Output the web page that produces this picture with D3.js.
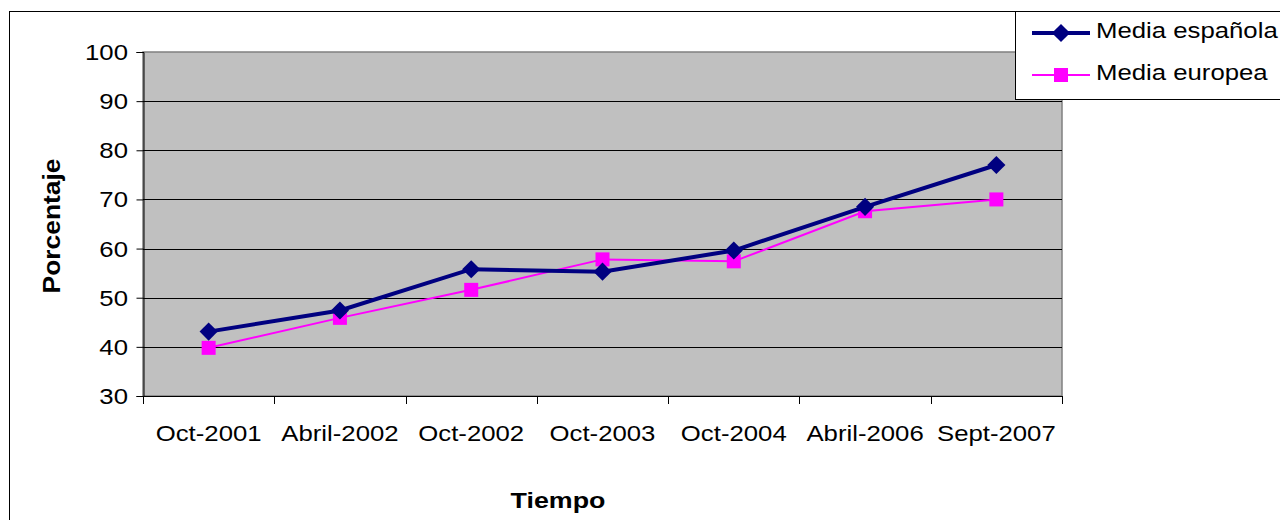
<!DOCTYPE html>
<html>
<head>
<meta charset="UTF-8">
<style>
body { margin: 0; background: #fff; }
svg { display: block; font-family: "Liberation Sans", Arial, sans-serif; }
</style>
</head>
<body>
<svg id="chart"></svg>
<script src="https://cdn.jsdelivr.net/npm/d3@7"></script>
<script>
let width = 1280, height = 520;

// data
let categories = ["Oct-2001", "Abril-2002", "Oct-2002", "Oct-2003", "Oct-2004", "Abril-2006", "Sept-2007"];
let mediaEspanola = [43.1, 47.4, 55.8, 55.3, 59.6, 68.5, 77.0];
let mediaEuropea = [39.8, 45.9, 51.6, 57.8, 57.4, 67.6, 70.0];
let yTicks = [30, 40, 50, 60, 70, 80, 90, 100];

// the original picture is a bit stretched sideways, so text is widened
let sx = 1.17;

let svg = d3.select("#chart").attr("width", width).attr("height", height);

// outer chart border
svg.append("rect")
  .attr("x", 9.5).attr("y", 11.5)
  .attr("width", 1300).attr("height", 600)
  .attr("fill", "#fff").attr("stroke", "#000").attr("stroke-width", 1);

let plot = { left: 143, top: 52, right: 1062, bottom: 396 };

let x = d3.scaleBand().domain(categories).range([plot.left, plot.right]);
let y = d3.scaleLinear().domain([30, 100]).range([plot.bottom, plot.top]);

function label(g, tx, ty, txt, anchor, opts) {
  opts = opts || {};
  return g.append("text")
    .attr("transform", "translate(" + tx + "," + ty + ")" + (opts.rotate ? " rotate(" + opts.rotate + ")" : "") + " scale(" + (opts.sx || sx) + ",1)")
    .attr("text-anchor", anchor)
    .attr("font-size", opts.size || 22)
    .attr("font-weight", opts.bold ? "bold" : null)
    .attr("fill", "#000")
    .text(txt);
}

// plot background
svg.append("rect")
  .attr("x", plot.left).attr("y", plot.top)
  .attr("width", plot.right - plot.left).attr("height", plot.bottom - plot.top)
  .attr("fill", "#c0c0c0").attr("stroke", "#808080").attr("stroke-width", 1.5);

// gridlines
svg.append("g")
  .selectAll("line")
  .data(yTicks.filter(d => d > 30 && d < 100))
  .enter().append("line")
  .attr("x1", plot.left).attr("x2", plot.right)
  .attr("y1", d => Math.round(y(d)) + 0.5).attr("y2", d => Math.round(y(d)) + 0.5)
  .attr("stroke", "#000").attr("stroke-width", 1);

// y axis
let yAxis = svg.append("g")
  .attr("transform", "translate(" + (plot.left + 0.5) + ",0)")
  .call(d3.axisLeft(y).tickValues(yTicks).tickSize(7).tickFormat(""));
yAxis.selectAll("line, path").attr("stroke", "#000");
yTicks.forEach(t => label(svg, 128, y(t) + 8, t, "end", { sx: 1.12, size: 23 }));

// x axis: ticks on band boundaries
let xAxisG = svg.append("g");
xAxisG.append("line")
  .attr("x1", plot.left).attr("x2", plot.right)
  .attr("y1", plot.bottom + 0.5).attr("y2", plot.bottom + 0.5)
  .attr("stroke", "#000");
let bounds = categories.map(c => x(c)).concat([x(categories[categories.length - 1]) + x.bandwidth()]);
xAxisG.selectAll(".tk")
  .data(bounds)
  .enter().append("line")
  .attr("x1", d => Math.round(d) + 0.5).attr("x2", d => Math.round(d) + 0.5)
  .attr("y1", plot.bottom).attr("y2", plot.bottom + 8)
  .attr("stroke", "#000");
categories.forEach(c => label(xAxisG, x(c) + x.bandwidth() / 2, 441, c, "middle"));

// axis titles
label(svg, 60, 226, "Porcentaje", "middle", { rotate: -90, bold: true, sx: 1.1, size: 24 });
label(svg, 558, 508, "Tiempo", "middle", { bold: true, sx: 1.22, size: 22 });

let cx = (d, i) => x(categories[i]) + x.bandwidth() / 2;
let line = d3.line().x((d, i) => cx(d, i)).y(d => y(d));

// European series
svg.append("path")
  .datum(mediaEuropea)
  .attr("d", line)
  .attr("fill", "none").attr("stroke", "#ff00ff").attr("stroke-width", 2);
svg.append("g").selectAll("rect")
  .data(mediaEuropea)
  .enter().append("rect")
  .attr("x", (d, i) => cx(d, i) - 7).attr("y", d => y(d) - 7)
  .attr("width", 14).attr("height", 14)
  .attr("fill", "#ff00ff");

// Spanish series
let diamond = d3.symbol().type(d3.symbolDiamond2).size(210);
svg.append("path")
  .datum(mediaEspanola)
  .attr("d", line)
  .attr("fill", "none").attr("stroke", "#000080").attr("stroke-width", 4);
svg.append("g").selectAll("path")
  .data(mediaEspanola)
  .enter().append("path")
  .attr("d", diamond)
  .attr("transform", (d, i) => "translate(" + cx(d, i) + "," + y(d) + ")")
  .attr("fill", "#000080");

// legend
let legend = svg.append("g");
legend.append("rect")
  .attr("x", 1015.5).attr("y", 11.5)
  .attr("width", 300).attr("height", 88)
  .attr("fill", "#fff").attr("stroke", "#000");
let legendItems = [
  { name: "Media española", color: "#000080", w: 4, sym: "diamond" },
  { name: "Media europea", color: "#ff00ff", w: 2, sym: "square" }
];
legendItems.forEach((it, i) => {
  let ly = 33 + i * 42;
  legend.append("line")
    .attr("x1", 1032).attr("x2", 1090).attr("y1", ly).attr("y2", ly)
    .attr("stroke", it.color).attr("stroke-width", it.w);
  if (it.sym === "diamond") {
    legend.append("path").attr("d", diamond)
      .attr("transform", "translate(1061," + ly + ")").attr("fill", it.color);
  } else {
    legend.append("rect").attr("x", 1054).attr("y", ly - 7)
      .attr("width", 14).attr("height", 14).attr("fill", it.color);
  }
  label(legend, 1096, ly + 5 + (i ? 0 : 0), it.name, "start");
});
</script>
</body>
</html>
